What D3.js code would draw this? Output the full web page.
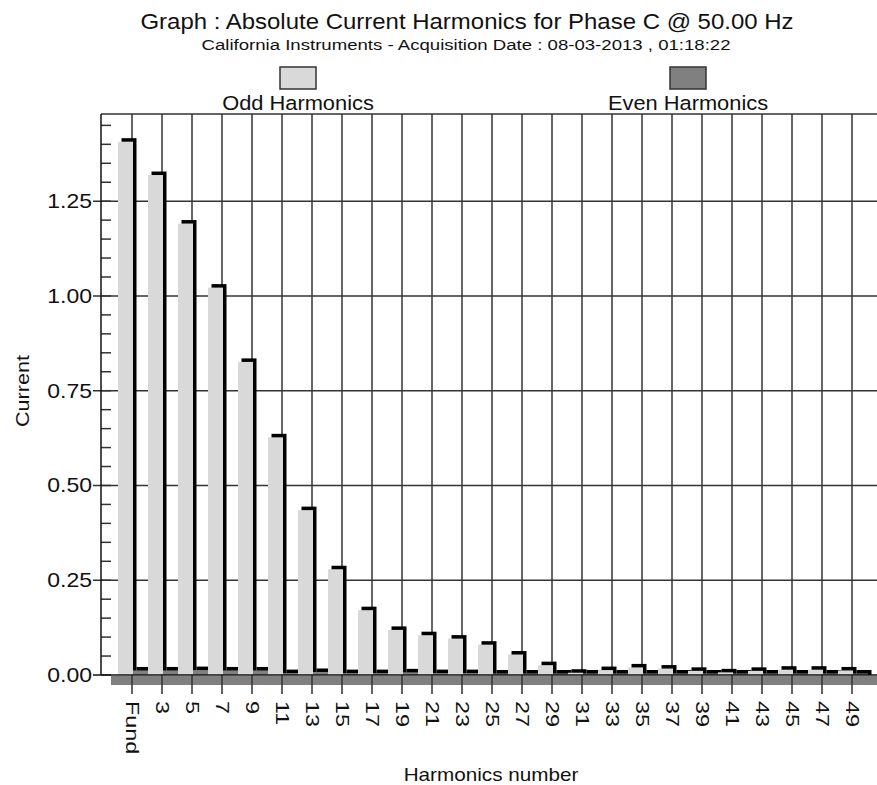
<!DOCTYPE html>
<html>
<head>
<meta charset="utf-8">
<script src="https://cdnjs.cloudflare.com/ajax/libs/d3/7.8.5/d3.min.js"></script>
<style>
  body { margin: 0; background: #fff; }
  text { font-family: "Liberation Sans", Arial, sans-serif; fill: #111; }
</style>
</head>
<body>
<svg id="chart"></svg>
<script>
var width = 877,
    height = 785

var oddLabels = ["Fund","3","5","7","9","11","13","15","17","19","21","23","25",
    "27","29","31","33","35","37","39","41","43","45","47","49"];
// harmonics 1,3,5 ... 49
var oddValues = [1.407,1.319,1.191,1.022,0.826,0.627,0.435,0.279,0.171,0.119,0.105,0.096,0.080,
    0.054,0.026,0.006,0.013,0.020,0.017,0.011,0.007,0.011,0.014,0.014,0.012];
// harmonics 2,4,6 ... 50
var evenValues = [0.012,0.012,0.013,0.012,0.012,0.005,0.008,0.005,0.005,0.007,0.005,0.005,0.004,
    0.004,0.004,0.004,0.004,0.004,0.004,0.004,0.004,0.004,0.004,0.004,0.004];
var yTicks = [0,0.25,0.5,0.75,1.0,1.25];
var legendNames = ["Odd Harmonics","Even Harmonics"];
var colors = ["#d9d9d9","#808080"];

var stretch = 1.15;
var plotLeft = 101, plotRight = 877, plotTop = 114, plotBottom = 675;

var svg = d3.select("svg#chart")
    .attr("width",width)
    .attr("height",height);

var y = d3.scaleLinear().domain([0,1.48]).range([plotBottom,plotTop]);
var x = d3.scaleLinear().domain([1,49]).range([132,852]);

function place(sel, px, py, rot, sx){
    return sel.attr("transform","translate(" + px + "," + py + ") rotate(" + (rot||0) + ") scale(" + (sx||stretch) + ",1)");
}

// titles
place(svg.append("text").attr("text-anchor","middle").style("font-size","22px")
    .text("Graph : Absolute Current Harmonics for Phase C @ 50.00 Hz"), 467, 29, 0, 1.09);
place(svg.append("text").attr("text-anchor","middle").style("font-size","15.5px")
    .text("California Instruments - Acquisition Date : 08-03-2013 , 01:18:22"), 466, 50, 0, 1.2);

// legend
var legendX = [298,688];
var leg = svg.selectAll("g.legend")
    .data(legendNames)
    .enter()
    .append("g")
    .attr("class","legend");
leg.append("rect")
    .attr("x",function(d,i){ return legendX[i]-18; })
    .attr("y",67)
    .attr("width",36)
    .attr("height",22)
    .attr("fill",function(d,i){ return colors[i]; })
    .attr("stroke","#333")
    .attr("stroke-width",1.5);
leg.append("text")
    .attr("text-anchor","middle")
    .style("font-size","19.5px")
    .attr("transform",function(d,i){ return "translate(" + legendX[i] + ",110) scale(1.12,1)"; })
    .text(function(d){ return d; });

// floor
svg.append("rect")
    .attr("x",plotLeft+10)
    .attr("y",plotBottom+1)
    .attr("width",plotRight-plotLeft-10)
    .attr("height",9)
    .attr("fill","#808080");

// horizontal grid
svg.selectAll("line.hgrid")
    .data(yTicks.slice(1))
    .enter()
    .append("line")
    .attr("x1",plotLeft-8)
    .attr("x2",plotRight)
    .attr("y1",function(d){ return y(d); })
    .attr("y2",function(d){ return y(d); })
    .attr("stroke","#333")
    .attr("stroke-width",1.5);

// vertical grid at odd harmonics
svg.selectAll("line.vgrid")
    .data(oddLabels)
    .enter()
    .append("line")
    .attr("x1",function(d,i){ return x(2*i+1); })
    .attr("x2",function(d,i){ return x(2*i+1); })
    .attr("y1",plotTop)
    .attr("y2",plotBottom+19)
    .attr("stroke","#333")
    .attr("stroke-width",1.5);

// minor ticks
svg.selectAll("line.minor")
    .data(d3.range(0,1.48,0.05))
    .enter()
    .append("line")
    .attr("x1",plotLeft)
    .attr("x2",plotLeft+10)
    .attr("y1",function(d){ return y(d); })
    .attr("y2",function(d){ return y(d); })
    .attr("stroke","#333")
    .attr("stroke-width",1.5);

// bars
var bars = [];
oddValues.forEach(function(v,i){
    bars.push({h:2*i+1, v:v, fill:colors[0]});
    bars.push({h:2*i+2, v:evenValues[i], fill:colors[1]});
});

var bar = svg.selectAll("g.bar")
    .data(bars)
    .enter()
    .append("g")
    .attr("class","bar");

bar.append("rect")
    .attr("x",function(d){ return x(d.h)-10.5; })
    .attr("y",function(d){ return y(d.v)-3.5; })
    .attr("width",15)
    .attr("height",function(d){ return plotBottom-y(d.v)+3.5; })
    .attr("fill","#000");

bar.append("rect")
    .attr("x",function(d){ return x(d.h)-14; })
    .attr("y",function(d){ return y(d.v); })
    .attr("width",15)
    .attr("height",function(d){ return plotBottom-y(d.v); })
    .attr("fill",function(d){ return d.fill; });

// frame
svg.append("line")
    .attr("x1",plotLeft).attr("x2",plotRight)
    .attr("y1",plotTop).attr("y2",plotTop)
    .attr("stroke","#333").attr("stroke-width",1.5);
svg.append("line")
    .attr("x1",plotLeft).attr("x2",plotLeft)
    .attr("y1",plotTop).attr("y2",plotBottom)
    .attr("stroke","#111").attr("stroke-width",1.5);
svg.append("line")
    .attr("x1",plotLeft-8).attr("x2",plotRight)
    .attr("y1",plotBottom).attr("y2",plotBottom)
    .attr("stroke","#111").attr("stroke-width",1.5);

// y tick labels
svg.selectAll("text.ytick")
    .data(yTicks)
    .enter()
    .append("text")
    .attr("class","ytick")
    .attr("text-anchor","end")
    .style("font-size","20px")
    .attr("transform",function(d){ return "translate(92," + (y(d)+7) + ") scale(" + stretch + ",1)"; })
    .text(function(d){ return d3.format(".2f")(d); });

// x tick labels
svg.selectAll("text.xtick")
    .data(oddLabels)
    .enter()
    .append("text")
    .attr("class","xtick")
    .style("font-size","18px")
    .attr("transform",function(d,i){ return "translate(" + (x(2*i+1)-6.5) + ",701) rotate(90) scale(1.3,1)"; })
    .text(function(d){ return d; });

// axis titles
place(svg.append("text").attr("text-anchor","middle").style("font-size","18px").text("Current"), 29, 391, -90, 1.2);
place(svg.append("text").attr("text-anchor","middle").style("font-size","18px").text("Harmonics number"), 491, 781);
</script>
</body>
</html>
